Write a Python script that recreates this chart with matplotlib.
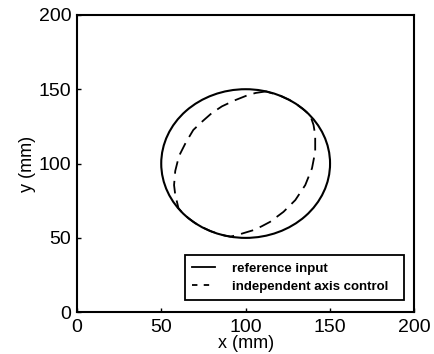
import matplotlib

matplotlib.use("Agg")
import matplotlib.pyplot as plt
from matplotlib.lines import Line2D
from matplotlib.patches import Circle

plt.rcParams["font.family"] = ["Liberation Sans", "DejaVu Sans"]

# reference input: circle
ref_center = (100, 100)
ref_radius = 50

# independent axis control trajectory
ind_x = [112, 106, 101.5, 93.5, 86, 80, 74.5, 69, 64.5, 60.5, 58.3, 57.6, 58.3,
         59.3, 60.2, 62, 65, 69, 74, 80, 86, 91, 96.7, 104.6, 109.5, 114.5,
         122.4, 129.4, 135.3, 139.3, 141.2, 141.2, 140.2, 138.3, 135, 131, 126,
         120, 112]
ind_y = [148.5, 147.5, 146.1, 142.5, 138.5, 134, 128.5, 122.6, 114, 105, 95, 85.5,
         79, 74.3, 70, 67.5, 64.3, 60.8, 57.3, 54.2, 52, 50.8, 52.5, 55.2, 57.8,
         60.8, 67.5, 75.4, 85.5, 96.8, 108, 119.2, 126, 132.3, 135.7, 139.2,
         142.7, 145.8, 148.5]

x_ticks = [0, 50, 100, 150, 200]
y_ticks = [0, 50, 100, 150, 200]
legend_labels = ["reference input", "independent axis control"]

fig = plt.figure(figsize=(4.34, 3.54), dpi=100)
ax = fig.add_axes([0.177, 0.118, 0.778, 0.840])

ax.add_patch(Circle(ref_center, ref_radius, fill=False, color="black", linewidth=1.5))
ax.plot(ind_x, ind_y, color="black", linewidth=1.3, linestyle=(0, (7, 4)))

ax.set_xlim(0, 200)
ax.set_ylim(0, 200)
ax.set_xticks(x_ticks)
ax.set_yticks(y_ticks)
ax.tick_params(direction="in", length=3, width=1, labelsize=14, pad=4)
ax.tick_params(axis="x", pad=5)
for spine in ax.spines.values():
    spine.set_linewidth(1.5)

ax.set_xlabel("x (mm)", fontsize=13, labelpad=-1)
ax.set_ylabel("y (mm)", fontsize=13, labelpad=2)

handles = [
    Line2D([], [], color="black", linewidth=1.3),
    Line2D([], [], color="black", linewidth=1.3, linestyle=(0, (3, 3.5))),
]
leg = ax.legend(handles, legend_labels, loc="lower left",
                bbox_to_anchor=(0.32, 0.04, 0.65, 0.16), mode="expand",
                borderaxespad=0, prop={"size": 9.5, "weight": "bold"},
                handlelength=1.7, handletextpad=1.3, borderpad=0.55,
                labelspacing=0.45, fancybox=False, framealpha=1,
                edgecolor="black")
leg.get_frame().set_linewidth(1.3)

fig.savefig("out.png", dpi=100)
